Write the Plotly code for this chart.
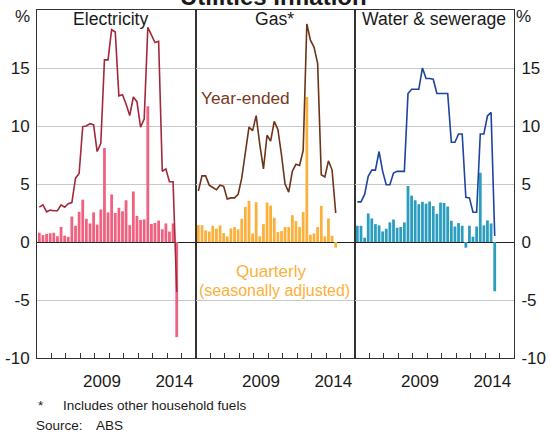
import pandas as pd
import plotly.graph_objects as go

# ---------------- data (Mar 2005 .. Sep 2014, quarterly) ----------------
quarters = pd.date_range("2005-03-01", periods=39, freq="3MS")

elec_year = [3.0, 3.2, 2.6, 2.75, 2.7, 2.7, 3.2, 3.0, 3.3, 3.4, 5.5, 5.9, 9.95, 10.0, 10.2, 10.1,
             7.8, 8.5, 15.7, 15.7, 18.3, 18.1, 12.6, 12.7, 11.9, 10.9, 12.5, 12.1, 9.9, 10.6,
             18.5, 17.8, 17.2, 17.3, 6.1, 6.3, 5.2, 5.2, -4.3]
elec_q = [0.8, 0.6, 0.7, 0.75, 0.8, 0.5, 1.3, 0.55, 0.45, 2.2, 1.4, 2.6, 3.65, 2.0, 1.6, 2.55,
          1.5, 2.8, 8.1, 2.55, 4.1, 2.5, 2.95, 2.65, 3.6, 1.45, 4.35, 2.25, 1.9, 1.95,
          11.7, 1.55, 1.65, 1.85, 1.1, 1.6, 0.9, 1.6, -8.2]

gas_year = [4.4, 5.7, 5.7, 4.9, 4.7, 4.5, 4.9, 4.8, 3.7, 3.8, 3.8, 4.1, 5.5, 7.8, 9.9, 9.6,
            10.9, 8.4, 6.3, 9.2, 8.7, 10.4, 9.7, 7.5, 5.0, 4.3, 6.1, 6.7, 6.6, 7.9,
            18.8, 17.4, 16.8, 15.4, 5.8, 5.6, 7.0, 6.2, 2.5]
gas_q = [1.45, 1.45, 1.0, 0.9, 1.4, 1.15, 1.43, 0.77, 0.49, 1.17, 1.29, 1.09, 2.0, 3.03, 3.55, 0.74,
         3.43, 0.49, 1.54, 3.4, 3.14, 2.09, 0.86, 0.94, 1.29, 1.29, 2.31, 1.8, 1.3, 2.58,
         12.5, 0.62, 0.74, 1.29, 3.12, 0.49, 2.03, 0.54, -0.49]

water_year = [3.46, 3.46, 4.1, 5.66, 6.2, 6.2, 7.8, 6.09, 4.94, 4.94, 5.94, 6.09, 6.09, 6.09,
              12.8, 13.17, 13.17, 13.17, 15.0, 14.09, 14.09, 14.03, 12.8, 12.8, 12.8, 12.8,
              8.6, 8.6, 9.31, 9.31, 3.86, 3.8, 2.57, 2.57, 9.31, 9.31, 10.86, 11.17, 0.51]
water_q = [1.4, 1.4, 0.37, 2.46, 2.03, 1.54, 1.43, 0.91, 1.14, 1.69, 1.94, 1.23, 1.29, 1.69,
           4.83, 4.0, 3.6, 3.26, 3.46, 3.31, 3.49, 3.09, 2.43, 3.4, 3.37, 3.06,
           1.83, 1.34, 1.63, 1.4, -0.49, 1.4, 0.46, 1.34, 5.97, 1.43, 1.86, 1.6, -4.25]

panel_titles = ["Electricity", "Gas*", "Water & sewerage"]
y_ticks = [-10, -5, 0, 5, 10, 15]
y_ticktext = [str(v) for v in y_ticks]
x_label_years = ["2009", "2014"]

# ---------------- styling ----------------
FONT = "Liberation Sans, Arial, sans-serif"
TXT = "#1a1a1a"
FRAME = "#333333"
GRID = "#c8c8c8"

panels = [
    (elec_q, elec_year, "#f0607f", "#a3283c"),
    (gas_q, gas_year, "#fbb03b", "#6e3318"),
    (water_q, water_year, "#2b9dbf", "#1f44a0"),
]

W, H = 550, 433
ML, MR, MT, MB = 37, 36, 10, 75
PW, PH = W - ML - MR, H - MT - MB


def px(x):
    return (x - ML) / PW


def py(y):
    return (H - MB - y) / PH


fig = go.Figure()
for i, (q, ye, bc, lc) in enumerate(panels):
    xa = "x" if i == 0 else f"x{i+1}"
    ya = "y" if i == 0 else f"y{i+1}"
    fig.add_trace(go.Bar(x=quarters, y=q, marker=dict(color=bc, line=dict(width=0)),
                         xaxis=xa, yaxis=ya, showlegend=False))
    fig.add_trace(go.Scatter(x=quarters, y=ye, mode="lines", line=dict(color=lc, width=1.6),
                             xaxis=xa, yaxis=ya, showlegend=False))

minor_years = [f"{y}-01-01" for y in range(2006, 2016)]
label_pos = [f"{y}-07-02" for y in x_label_years]

layout = dict(
    width=W, height=H, autosize=False,
    margin=dict(l=ML, r=MR, t=MT, b=MB, autoexpand=False),
    paper_bgcolor="white", plot_bgcolor="white",
    font=dict(family=FONT, size=17, color=TXT),
    barmode="overlay", bargap=0.22,
    showlegend=False,
)
for i in range(3):
    xk = "xaxis" if i == 0 else f"xaxis{i+1}"
    yk = "yaxis" if i == 0 else f"yaxis{i+1}"
    layout[xk] = dict(
        domain=[i / 3, (i + 1) / 3], anchor="y" if i == 0 else f"y{i+1}",
        type="date", range=["2005-01-01", "2016-01-01"], automargin=False,
        showline=True, mirror=True, linecolor=FRAME, linewidth=1,
        showgrid=False, zeroline=False,
        tickmode="array", tickvals=label_pos, ticktext=x_label_years, ticks="",
        ticklabelstandoff=8,
        tickfont=dict(size=17, color=TXT),
        minor=dict(tickmode="array", tickvals=minor_years, ticks="inside",
                   ticklen=5, tickcolor=FRAME, showgrid=False),
    )
    layout[yk] = dict(
        domain=[0, 1], anchor="x" if i == 0 else f"x{i+1}",
        range=[-10, 20], automargin=False,
        tickmode="array", tickvals=y_ticks, ticktext=y_ticktext, ticks="",
        ticklabelstandoff=3,
        showticklabels=(i != 1), side="right" if i == 2 else "left",
        showgrid=True, gridcolor=GRID, gridwidth=1,
        zeroline=True, zerolinecolor="#222222", zerolinewidth=1,
        showline=True, mirror=True, linecolor=FRAME, linewidth=1,
        tickfont=dict(size=17, color=TXT),
    )
fig.update_layout(**layout)

ann = []
# title (partly cut off at top in the reference)
ann.append(dict(text="<b>Utilities Inflation</b>", x=px(273.5), y=py(-4), xref="paper", yref="paper",
                showarrow=False, xanchor="center", yanchor="middle", font=dict(size=24, color=TXT)))
# % labels
ann.append(dict(text="%", x=px(22), y=py(17), xref="paper", yref="paper", showarrow=False,
                xanchor="center", yanchor="middle", font=dict(size=17, color=TXT)))
ann.append(dict(text="%", x=px(523), y=py(17), xref="paper", yref="paper", showarrow=False,
                xanchor="center", yanchor="middle", font=dict(size=17, color=TXT)))
# panel titles
for t, xc in zip(panel_titles, [110.5, 274, 434]):
    ann.append(dict(text=t, x=px(xc), y=py(19), xref="paper", yref="paper", showarrow=False,
                    xanchor="center", yanchor="middle", font=dict(size=17.6, color=TXT)))
# series labels
ann.append(dict(text="Year-ended", x=px(245), y=py(98), xref="paper", yref="paper", showarrow=False,
                xanchor="center", yanchor="middle", font=dict(size=17.3, color="#7a3a1e")))
ann.append(dict(text="Quarterly", x=px(271), y=py(271.5), xref="paper", yref="paper", showarrow=False,
                xanchor="center", yanchor="middle", font=dict(size=17, color="#fbb03b")))
ann.append(dict(text="(seasonally adjusted)", x=px(274), y=py(290), xref="paper", yref="paper",
                showarrow=False, xanchor="center", yanchor="middle", font=dict(size=16, color="#fbb03b")))
# footnotes
ann.append(dict(text="*", x=px(36), y=py(405), xref="paper", yref="paper", showarrow=False,
                xanchor="left", yanchor="middle", font=dict(size=13.5, color=TXT)))
ann.append(dict(text="Includes other household fuels", x=px(60.5), y=py(405.5), xref="paper", yref="paper",
                showarrow=False, xanchor="left", yanchor="middle", font=dict(size=13.5, color=TXT)))
ann.append(dict(text="Source:", x=px(34), y=py(425.5), xref="paper", yref="paper", showarrow=False,
                xanchor="left", yanchor="middle", font=dict(size=13.5, color=TXT)))
ann.append(dict(text="ABS", x=px(94), y=py(425.5), xref="paper", yref="paper", showarrow=False,
                xanchor="left", yanchor="middle", font=dict(size=13.5, color=TXT)))
fig.update_layout(annotations=ann)

fig.write_html(
    "out.html",
    config={"displayModeBar": False, "staticPlot": True},
    post_script="document.body.style.margin='0';document.body.style.overflow='hidden';",
)
